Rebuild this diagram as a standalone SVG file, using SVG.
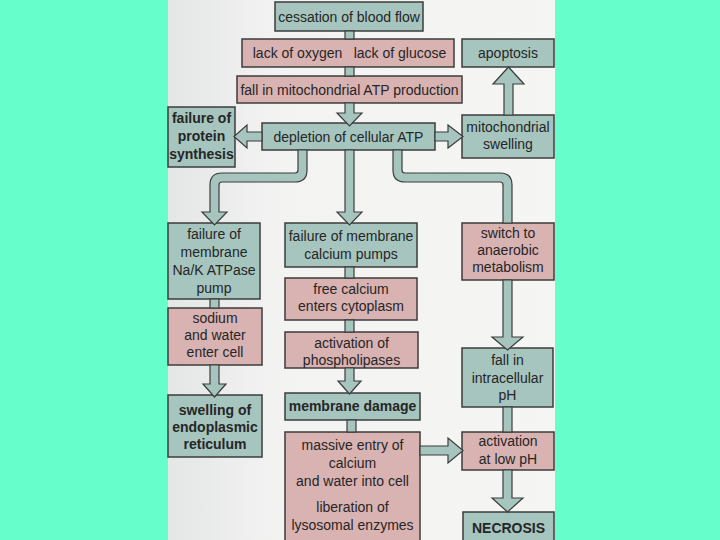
<svg xmlns="http://www.w3.org/2000/svg" width="720" height="540" viewBox="0 0 720 540">
<defs>
<linearGradient id="page" x1="0" y1="0" x2="1" y2="0">
<stop offset="0" stop-color="#e4e7e6"/>
<stop offset="0.3" stop-color="#f3f3f2"/>
<stop offset="1" stop-color="#f5f5f3"/>
</linearGradient>
<style>
.t{fill:#a5c5be;stroke:#3c3c3c;stroke-width:1.5}
.p{fill:#d9b2b2;stroke:#3c3c3c;stroke-width:1.5}
.c{fill:#a5c5be;stroke:#3c3c3c;stroke-width:1.2;stroke-linejoin:miter}
text{font-family:"Liberation Sans",Arial,sans-serif;font-size:14px;fill:#262626;text-anchor:middle}
.b{font-weight:bold}
</style>
</defs>
<rect x="0" y="0" width="720" height="540" fill="#66ffcc"/>
<rect x="168" y="0" width="387" height="540" fill="url(#page)"/>

<g id="nodes">
<g id="n-cessation"><rect class="t" x="275" y="2" width="148" height="29"/><text x="349" y="22">cessation of blood flow</text></g>
<g id="n-lack"><rect class="p" x="242" y="39" width="212" height="28"/><text x="297.5" y="58">lack of oxygen</text><text x="400" y="58">lack of glucose</text></g>
<g id="n-fall-atp"><rect class="p" x="237" y="76" width="225" height="27"/><text x="349.5" y="95">fall in mitochondrial ATP production</text></g>
<g id="n-apoptosis"><rect class="t" x="462" y="39" width="92" height="28"/><text x="508" y="58">apoptosis</text></g>
<g id="n-protein"><rect class="t" x="168" y="107" width="67" height="60"/><text class="b" x="201.5" y="123">failure of</text><text class="b" x="201.5" y="141">protein</text><text class="b" x="201.5" y="159">synthesis</text></g>
<g id="n-depletion"><rect class="t" x="262" y="123" width="173" height="27"/><text x="348.5" y="142">depletion of cellular ATP</text></g>
<g id="n-mito"><rect class="t" x="462" y="115" width="92" height="43"/><text x="508" y="132">mitochondrial</text><text x="508" y="149">swelling</text></g>
<g id="n-nak"><rect class="t" x="168" y="223" width="92" height="76"/><text x="214" y="239">failure of</text><text x="214" y="257">membrane</text><text x="214" y="275">Na/K ATPase</text><text x="214" y="293">pump</text></g>
<g id="n-capumps"><rect class="t" x="285" y="223" width="132" height="44"/><text x="351" y="241">failure of membrane</text><text x="351" y="259">calcium pumps</text></g>
<g id="n-switch"><rect class="p" x="462" y="223" width="92" height="57"/><text x="508" y="238">switch to</text><text x="508" y="255">anaerobic</text><text x="508" y="272">metabolism</text></g>
<g id="n-freeca"><rect class="p" x="285" y="278" width="132" height="42"/><text x="351" y="294">free calcium</text><text x="351" y="311">enters cytoplasm</text></g>
<g id="n-sodium"><rect class="p" x="168" y="308" width="94" height="57"/><text x="215" y="323">sodium</text><text x="215" y="340">and water</text><text x="215" y="357">enter cell</text></g>
<g id="n-phospho"><rect class="p" x="285" y="332" width="133" height="36"/><text x="351.5" y="348">activation of</text><text x="351.5" y="365">phospholipases</text></g>
<g id="n-membrane"><rect class="t" x="285" y="393" width="135" height="27"/><text class="b" x="352.5" y="411">membrane damage</text></g>
<g id="n-er"><rect class="t" x="168" y="395" width="94" height="62"/><text class="b" x="215" y="415">swelling of</text><text class="b" x="215" y="432">endoplasmic</text><text class="b" x="215" y="449">reticulum</text></g>
<g id="n-ph"><rect class="t" x="462" y="348" width="91" height="59"/><text x="507.5" y="365">fall in</text><text x="507.5" y="383">intracellular</text><text x="507.5" y="400">pH</text></g>
<g id="n-massive"><rect class="p" x="285" y="432" width="135" height="112"/><text x="352.5" y="450">massive entry of</text><text x="352.5" y="468">calcium</text><text x="352.5" y="486">and water into cell</text><text x="352.5" y="512">liberation of</text><text x="352.5" y="530">lysosomal enzymes</text></g>
<g id="n-lowph"><rect class="p" x="462" y="432" width="92" height="38"/><text x="508" y="446">activation</text><text x="508" y="464">at low pH</text></g>
<g id="n-necrosis"><rect class="t" x="463" y="512" width="91" height="30"/><text class="b" x="508.5" y="533">NECROSIS</text></g>
</g>

<g id="connectors">
<rect class="c" x="345" y="31" width="9" height="8"/>
<rect class="c" x="345" y="67" width="9" height="9"/>
<path class="c" d="M345,103 L354,103 L354,113 L362,113 L349.5,126 L337,113 L345,113 Z"/>
<path class="c" d="M262,132 L247,132 L247,125 L234,136.5 L247,148 L247,141 L262,141 Z"/>
<path class="c" d="M435,132 L448,132 L448,125 L463,136.5 L448,148 L448,141 L435,141 Z"/>
<path class="c" d="M504,115 L504,84 L493,84 L508.5,67 L524,84 L513,84 L513,115 Z"/>
<path class="c" d="M298,150 L307,150 L307,170 Q307,182 295,182 L222,182 Q219,182 219,185 L219,212 L227,212 L214.5,225 L202,212 L210,212 L210,185 Q210,173 222,173 L295,173 Q298,173 298,170 Z"/>
<path class="c" d="M345,150 L354,150 L354,212 L362,212 L349.5,225 L337,212 L345,212 Z"/>
<path class="c" d="M393,150 L402,150 L402,170 Q402,173 405,173 L500,173 Q512,173 512,185 L512,223 L503,223 L503,185 Q503,182 500,182 L405,182 Q393,182 393,170 Z"/>
<rect class="c" x="210" y="299" width="9" height="9"/>
<path class="c" d="M210,365 L219,365 L219,384 L226,384 L214.5,397 L203,384 L210,384 Z"/>
<rect class="c" x="345" y="267" width="9" height="11"/>
<rect class="c" x="345" y="320" width="9" height="12"/>
<path class="c" d="M345,368 L354,368 L354,381 L361,381 L349.5,394 L338,381 L345,381 Z"/>
<rect class="c" x="347" y="420" width="9" height="12"/>
<path class="c" d="M503,280 L512,280 L512,337 L523,337 L507.5,350 L492,337 L503,337 Z"/>
<rect class="c" x="503" y="407" width="9" height="25"/>
<path class="c" d="M420,446 L448,446 L448,438 L463,450.5 L448,463 L448,455 L420,455 Z"/>
<path class="c" d="M503,470 L512,470 L512,498 L523,498 L507.5,512 L492,498 L503,498 Z"/>
</g>
</svg>
